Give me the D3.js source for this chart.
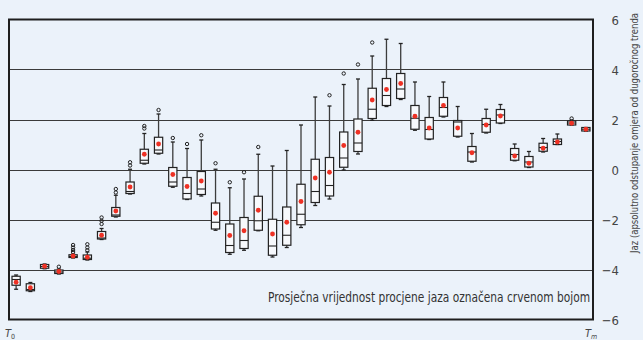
<!DOCTYPE html>
<html>
<head>
<meta charset="utf-8">
<script src="https://cdn.jsdelivr.net/npm/d3@7"></script>
<style>
  html, body { margin: 0; padding: 0; background: #ebf2fa; }
  svg { display: block; }
  text { font-family: "Liberation Sans Narrow", "DejaVu Sans Condensed", "Roboto", sans-serif; font-stretch: condensed; }
</style>
</head>
<body>
<svg id="chart" width="643" height="340"></svg>
<script>
// box statistics per period
const low    = [-4.79, -4.88, -3.97, -4.18, -3.54, -3.62, -2.80, -1.90, -0.98, 0.22, 0.62, -0.71, -1.20, -1.06, -2.43, -3.39, -3.23, -2.45, -3.50, -3.12, -2.32, -1.44, -1.18, -0.02, 0.62, 1.97, 2.52, 2.80, 1.57, 1.20, 2.10, 1.30, 0.30, 1.46, 1.84, 0.35, 0.08, 0.70, 1.00, 1.78, 1.54]
const q1     = [-4.63, -4.85, -3.95, -4.16, -3.52, -3.60, -2.78, -1.87, -0.96, 0.25, 0.65, -0.67, -1.18, -1.00, -2.38, -3.32, -3.16, -2.43, -3.43, -3.03, -2.21, -1.32, -1.06, 0.09, 0.72, 2.04, 2.56, 2.84, 1.61, 1.22, 2.13, 1.33, 0.33, 1.49, 1.86, 0.37, 0.10, 0.73, 1.00, 1.78, 1.54]
const median = [-4.40, -4.80, -3.88, -4.10, -3.48, -3.55, -2.74, -1.82, -0.88, 0.37, 0.78, -0.50, -0.96, -0.78, -2.11, -3.04, -2.84, -2.05, -3.06, -2.63, -1.79, -0.88, -0.64, 0.46, 1.06, 2.41, 2.96, 3.22, 2.05, 1.60, 2.48, 1.90, 0.70, 1.80, 2.18, 0.60, 0.30, 0.88, 1.12, 1.86, 1.61]
const q3     = [-4.27, -4.57, -3.80, -4.02, -3.41, -3.42, -2.48, -1.52, -0.50, 0.81, 1.29, 0.08, -0.32, -0.08, -1.34, -2.18, -1.92, -1.07, -1.99, -1.50, -0.59, 0.41, 0.48, 1.50, 2.02, 3.25, 3.64, 3.84, 2.56, 2.08, 2.88, 1.96, 0.92, 2.04, 2.40, 0.84, 0.52, 1.05, 1.22, 1.94, 1.68]
const high   = [-4.22, -4.52, -3.78, -3.98, -3.38, -3.30, -2.36, -1.03, 0.01, 1.44, 2.22, 1.10, 0.84, 1.18, 0.01, -0.73, -0.38, 0.61, 0.14, 0.76, 1.78, 2.90, 2.54, 3.40, 3.62, 4.54, 5.21, 5.04, 3.50, 2.92, 3.50, 2.52, 1.44, 2.41, 2.60, 1.02, 0.72, 1.24, 1.42, 1.98, 1.68]
const mean   = [-4.51, -4.73, -3.87, -4.08, -3.46, -3.51, -2.63, -1.66, -0.70, 0.61, 1.02, -0.20, -0.68, -0.46, -1.75, -2.64, -2.45, -1.63, -2.58, -2.11, -1.28, -0.34, -0.11, 0.96, 1.49, 2.78, 3.20, 3.44, 2.13, 1.66, 2.56, 1.66, 0.67, 1.78, 2.14, 0.54, 0.25, 0.85, 1.10, 1.85, 1.61]
const outliers = [[], [], [], [-3.89], [-3.02, -3.12, -3.22, -3.30], [-2.99, -3.12, -3.23], [-1.92, -2.05, -2.18],
  [-0.78, -0.92], [0.16, 0.29], [1.64, 1.74], [2.38], [1.26], [1.02], [1.37], [0.25], [-0.51], [-0.11], [0.90], [], [], [], [],
  [2.97], [3.84], [4.20], [5.08], [], [], [], [], [], [], [], [], [], [], [], [], [], [2.04], []]
const yTicks = [-6, -4, -2, 0, 2, 4, 6]
const gridValues = [-4, -2, 0, 2, 4]

const boxes = d3.range(low.length).map(i => ({
  i, lo: low[i], q1: q1[i], med: median[i], q3: q3[i], hi: high[i], mean: mean[i], out: outliers[i]
}))

const svg = d3.select('#chart')
const plotLeft = 9
const plotRight = 593
const plotTop = 19.5
const plotBottom = 319.5

const x = d3.scaleBand().domain(boxes.map(d => d.i)).range([plotLeft, plotRight]).paddingInner(0.42).paddingOuter(0.21)
const y = d3.scaleLinear().domain([-6, 6]).range([plotBottom, plotTop])
const cx = i => x(i) + x.bandwidth() / 2

svg.append('rect').attr('width', 643).attr('height', 340).attr('fill', '#ebf2fa')

// grid
svg.selectAll('line.grid').data(gridValues).enter().append('line')
  .attr('x1', plotLeft).attr('x2', plotRight)
  .attr('y1', d => Math.round(y(d)) + 0.5).attr('y2', d => Math.round(y(d)) + 0.5)
  .attr('stroke', '#3a3a3a').attr('stroke-width', 1.1)

// legend text
svg.append('text').attr('x', 268).attr('y', 302)
  .attr('font-size', 13.5).attr('fill', '#333')
  .attr('textLength', 322).attr('lengthAdjust', 'spacingAndGlyphs')
  .text('Prosječna vrijednost procjene jaza označena crvenom bojom')

// boxes
const g = svg.selectAll('g.box').data(boxes).enter().append('g').attr('class', 'box')
const capW = 2

g.append('line').attr('x1', d => cx(d.i)).attr('x2', d => cx(d.i))
  .attr('y1', d => y(d.hi)).attr('y2', d => y(d.q3))
  .attr('stroke', '#3c3c3c').attr('stroke-width', 1.3)
g.append('line').attr('x1', d => cx(d.i)).attr('x2', d => cx(d.i))
  .attr('y1', d => y(d.q1)).attr('y2', d => y(d.lo))
  .attr('stroke', '#3c3c3c').attr('stroke-width', 1.3)
g.append('line').attr('x1', d => cx(d.i) - capW).attr('x2', d => cx(d.i) + capW)
  .attr('y1', d => y(d.hi)).attr('y2', d => y(d.hi))
  .attr('stroke', '#222').attr('stroke-width', 1.3)
g.append('line').attr('x1', d => cx(d.i) - capW).attr('x2', d => cx(d.i) + capW)
  .attr('y1', d => y(d.lo)).attr('y2', d => y(d.lo))
  .attr('stroke', '#222').attr('stroke-width', 1.3)
g.append('rect').attr('x', d => x(d.i)).attr('width', x.bandwidth())
  .attr('y', d => y(d.q3)).attr('height', d => Math.max(y(d.q1) - y(d.q3), 1.5))
  .attr('fill', '#f7f9fc').attr('stroke', '#222').attr('stroke-width', 1.2)
g.append('line').attr('x1', d => x(d.i)).attr('x2', d => x(d.i) + x.bandwidth())
  .attr('y1', d => y(d.med)).attr('y2', d => y(d.med))
  .attr('stroke', '#222').attr('stroke-width', 1.1)
g.selectAll('circle.out').data(d => d.out.map(v => ({ i: d.i, v }))).enter().append('circle')
  .attr('cx', d => cx(d.i)).attr('cy', d => y(d.v)).attr('r', 1.7)
  .attr('fill', 'none').attr('stroke', '#222').attr('stroke-width', 1)
g.append('circle').attr('cx', d => cx(d.i)).attr('cy', d => y(d.mean)).attr('r', 2.4)
  .attr('fill', '#ee3124')

// frame
svg.append('rect').attr('x', plotLeft).attr('y', plotTop).attr('width', plotRight - plotLeft).attr('height', plotBottom - plotTop)
  .attr('fill', 'none').attr('stroke', '#1e1e1e').attr('stroke-width', 2)

// right axis labels
svg.selectAll('text.tick').data(yTicks).enter().append('text')
  .attr('x', 619).attr('y', d => y(d) + 1.5)
  .attr('text-anchor', 'end').attr('dominant-baseline', 'middle')
  .attr('font-size', 13).attr('fill', '#444')
  .text(d => d < 0 ? '\u2212' + Math.abs(d) : d)

svg.append('text')
  .attr('transform', 'translate(637.5,133) rotate(-90)')
  .attr('text-anchor', 'middle').attr('font-size', 10.5).attr('fill', '#444')
  .attr('textLength', 240).attr('lengthAdjust', 'spacingAndGlyphs')
  .text('Jaz (apsolutno odstupanje omjera od dugoročnog trenda')

// period markers
const t0 = svg.append('text').attr('x', 5).attr('y', 337).attr('font-size', 11).attr('fill', '#444')
t0.append('tspan').attr('font-style', 'italic').text('T')
t0.append('tspan').attr('font-size', 7).attr('dy', 2).text('0')
const tm = svg.append('text').attr('x', 585).attr('y', 337).attr('font-size', 11).attr('fill', '#444')
tm.append('tspan').attr('font-style', 'italic').text('T')
tm.append('tspan').attr('font-size', 7).attr('dy', 2).attr('font-style', 'italic').text('m')
</script>
</body>
</html>
